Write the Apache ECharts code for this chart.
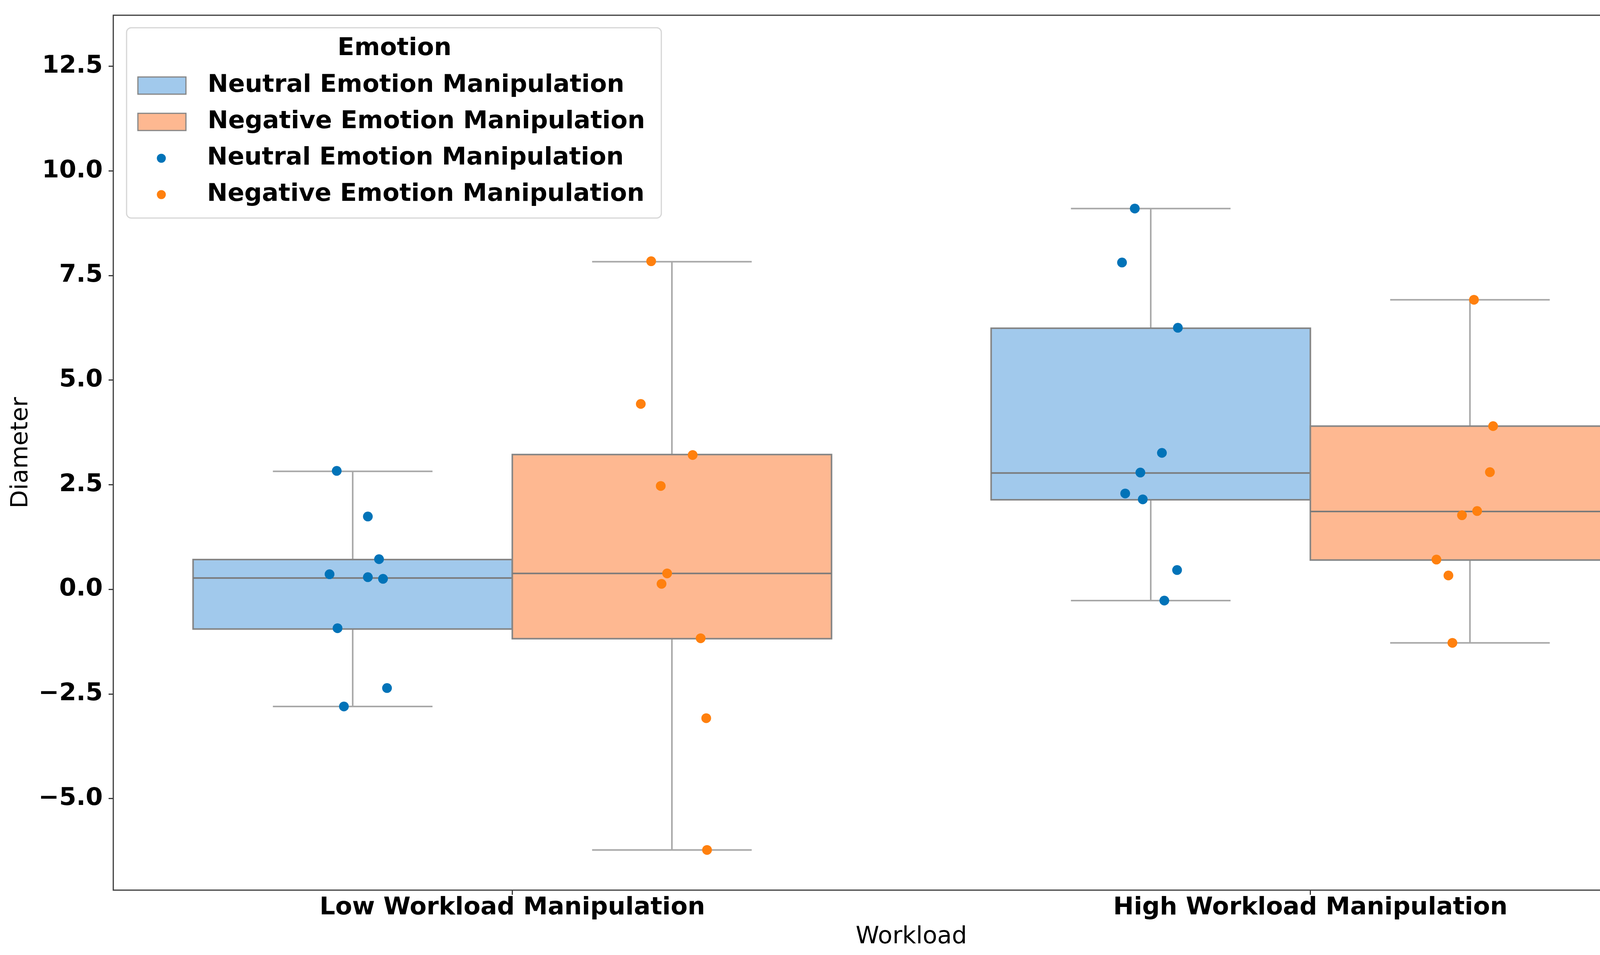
<!DOCTYPE html>
<html><head><meta charset="utf-8">
<script src="https://cdn.jsdelivr.net/npm/echarts@6/dist/echarts.min.js"></script>
<style>html,body{margin:0;padding:0;background:#fff;overflow:hidden}#c{width:4421px;height:2444px}</style>
</head><body><div id="c"></div>
<script>
// ---------- data ----------
const categories = ['Low Workload Manipulation', 'High Workload Manipulation'];
const hueNames = ['Neutral Emotion Manipulation', 'Negative Emotion Manipulation'];

// individual observations (Diameter) per workload category
const neutralLow  = [2.83, 1.74, 0.72, 0.36, 0.29, 0.25, -0.93, -2.36, -2.80];
const neutralHigh = [9.10, 7.81, 6.25, 3.26, 2.79, 2.29, 2.15, 0.46, -0.27];
const negativeLow  = [7.84, 4.43, 3.21, 2.47, 0.38, 0.13, -1.17, -3.08, -6.23];
const negativeHigh = [6.92, 3.90, 2.80, 1.87, 1.77, 0.71, 0.33, -1.28];

// strip-plot jitter (fraction of a category band)
const neutralLowJitter  = [-0.020, 0.019, 0.033, -0.029, 0.019, 0.038, -0.019, 0.043, -0.011];
const neutralHighJitter = [-0.020, -0.036, 0.034, 0.014, -0.013, -0.032, -0.010, 0.033, 0.017];
const negativeLowJitter  = [-0.026, -0.039, 0.026, -0.014, -0.006, -0.013, 0.036, 0.043, 0.044];
const negativeHighJitter = [0.005, 0.029, 0.025, 0.009, -0.010, -0.042, -0.027, -0.022];

// box statistics [lower whisker, Q1, median, Q3, upper whisker] per category
const neutralBox  = [[-2.80, -0.95, 0.27, 0.71, 2.82], [-0.27, 2.14, 2.78, 6.24, 9.10]];
const negativeBox = [[-6.23, -1.18, 0.38, 3.22, 7.83], [-1.28, 0.70, 1.86, 3.90, 6.92]];

const yTicks = [-5, -2.5, 0, 2.5, 5, 7.5, 10, 12.5];
const yRange = [-7.19, 13.72];

// ---------- styling ----------
const FONT = 'DejaVu Sans';
const BLUE_FILL = '#A1C9EC', ORANGE_FILL = '#FEB891';
const BLUE_PT = '#0173B8', ORANGE_PT = '#FF800E';
const BOX_EDGE = '#858585', WHISKER = '#a8a8a8';
const DODGE = 0.2, HALF = 0.2, CAP = 0.1;

// legend icons: drawn shape on the left, blank space to the right (M-points widen the box)
const PATCH_ICON = 'path://M0 0M175 47M1.5 1.5H124.5V45.5H1.5Z';
const DOT_ICON = 'path://M0 0M175 23M51.5 11.5A11.5 11.5 0 1 0 74.5 11.5A11.5 11.5 0 1 0 51.5 11.5Z';

function boxRender(offset) {
  return function (params, api) {
    const x = api.value(0) + offset;
    const lo = api.value(1), q1 = api.value(2), md = api.value(3), q3 = api.value(4), hi = api.value(5);
    const P = (a, b) => api.coord([a, b]);
    const fill = api.visual('color');
    const seg = (a, b, style) => ({ type: 'line', shape: { x1: a[0], y1: a[1], x2: b[0], y2: b[1] }, style: style });
    const wStyle = { stroke: WHISKER, lineWidth: 4 };
    const tl = P(x - HALF, q3), br = P(x + HALF, q1);
    return {
      type: 'group',
      children: [
        seg(P(x, q3), P(x, hi), wStyle),
        seg(P(x, q1), P(x, lo), wStyle),
        seg(P(x - CAP, hi), P(x + CAP, hi), wStyle),
        seg(P(x - CAP, lo), P(x + CAP, lo), wStyle),
        { type: 'rect', shape: { x: tl[0], y: tl[1], width: br[0] - tl[0], height: br[1] - tl[1] },
          style: { fill: fill, stroke: BOX_EDGE, lineWidth: 4 } },
        seg(P(x - HALF, md), P(x + HALF, md), { stroke: '#7a7a7a', lineWidth: 4 })
      ]
    };
  };
}

function stripData(lists, jitters, offset) {
  const out = [];
  lists.forEach((vals, ci) => {
    vals.forEach((v, k) => out.push([ci + offset + jitters[ci][k], v]));
  });
  return out;
}

const legendText = { color: '#000', fontFamily: FONT, fontWeight: 'bold', fontSize: 63, lineHeight: 64 };

const chart = echarts.init(document.getElementById('c'), null, { renderer: 'canvas' });
chart.setOption({
  animation: false,
  backgroundColor: '#ffffff',
  textStyle: { fontFamily: FONT },
  grid: { left: 290, right: 45, top: 39, bottom: 166, show: true, borderColor: '#3a3a3a', borderWidth: 3, backgroundColor: 'transparent' },
  xAxis: [
    {
      type: 'category', data: categories, gridIndex: 0, position: 'bottom',
      axisLine: { show: false, onZero: false },
      axisTick: { show: true, alignWithLabel: true, length: 12, lineStyle: { color: '#3a3a3a', width: 3 } },
      axisLabel: { color: '#000', fontFamily: FONT, fontWeight: 'bold', fontSize: 63, margin: 14 },
      name: 'Workload', nameLocation: 'middle', nameGap: 90,
      nameTextStyle: { color: '#000', fontFamily: FONT, fontSize: 61 },
      splitLine: { show: false }
    },
    { type: 'value', min: -0.5, max: 1.5, show: false, gridIndex: 0, axisLine: { onZero: false } }
  ],
  yAxis: {
    type: 'value', min: yRange[0], max: yRange[1],
    axisLine: { show: false, onZero: false },
    splitLine: { show: false },
    axisTick: { show: true, customValues: yTicks, length: 12, lineStyle: { color: '#3a3a3a', width: 3 } },
    axisLabel: {
      customValues: yTicks, color: '#000', fontFamily: FONT, fontWeight: 'bold', fontSize: 63, margin: 27,
      formatter: v => (v < 0 ? '\u2212' : '') + Math.abs(v).toFixed(1)
    },
    name: 'Diameter', nameLocation: 'middle', nameGap: 205,
    nameTextStyle: { color: '#000', fontFamily: FONT, fontSize: 61 }
  },
  legend: [
    {
      orient: 'vertical', left: 350, top: 187, itemGap: 29, padding: 0, z: 10,
      itemWidth: 175, itemHeight: 47, selectedMode: false,
      formatter: n => n.slice(4),
      textStyle: legendText,
      data: [
        { name: 'box:' + hueNames[0], icon: PATCH_ICON, itemStyle: { color: BLUE_FILL, borderColor: BOX_EDGE, borderWidth: 3 } },
        { name: 'box:' + hueNames[1], icon: PATCH_ICON, itemStyle: { color: ORANGE_FILL, borderColor: BOX_EDGE, borderWidth: 3 } }
      ]
    },
    {
      orient: 'vertical', left: 350, top: 373, itemGap: 29, padding: 0, z: 10,
      itemWidth: 175, itemHeight: 23, selectedMode: false,
      formatter: n => n.slice(4),
      textStyle: legendText,
      data: [
        { name: 'pts:' + hueNames[0], icon: DOT_ICON, itemStyle: { color: BLUE_PT, borderWidth: 0 } },
        { name: 'pts:' + hueNames[1], icon: DOT_ICON, itemStyle: { color: ORANGE_PT, borderWidth: 0 } }
      ]
    }
  ],
  graphic: [
    { type: 'rect', z: 5, shape: { x: 324, y: 71, width: 1369, height: 487, r: 12 },
      style: { fill: 'rgba(255,255,255,0.85)', stroke: '#d6d6d6', lineWidth: 3 } },
    { type: 'text', z: 11, style: { text: 'Emotion', x: 1010, y: 125, align: 'center', verticalAlign: 'middle',
      font: 'bold 63px "DejaVu Sans"', fill: '#000' } }
  ],
  series: [
    { name: 'box:' + hueNames[0], type: 'custom', xAxisIndex: 1, yAxisIndex: 0, z: 2,
      itemStyle: { color: BLUE_FILL }, renderItem: boxRender(-DODGE),
      encode: { x: 0, y: [1, 2, 3, 4, 5] },
      data: neutralBox.map((b, i) => [i].concat(b)) },
    { name: 'box:' + hueNames[1], type: 'custom', xAxisIndex: 1, yAxisIndex: 0, z: 2,
      itemStyle: { color: ORANGE_FILL }, renderItem: boxRender(DODGE),
      encode: { x: 0, y: [1, 2, 3, 4, 5] },
      data: negativeBox.map((b, i) => [i].concat(b)) },
    { name: 'pts:' + hueNames[0], type: 'scatter', xAxisIndex: 1, yAxisIndex: 0, z: 3,
      symbol: 'circle', symbolSize: 25, itemStyle: { color: BLUE_PT, opacity: 1 },
      emphasis: { disabled: true },
      data: stripData([neutralLow, neutralHigh], [neutralLowJitter, neutralHighJitter], -DODGE) },
    { name: 'pts:' + hueNames[1], type: 'scatter', xAxisIndex: 1, yAxisIndex: 0, z: 3,
      symbol: 'circle', symbolSize: 25, itemStyle: { color: ORANGE_PT, opacity: 1 },
      emphasis: { disabled: true },
      data: stripData([negativeLow, negativeHigh], [negativeLowJitter, negativeHighJitter], DODGE) }
  ]
});
</script>
</body></html>
